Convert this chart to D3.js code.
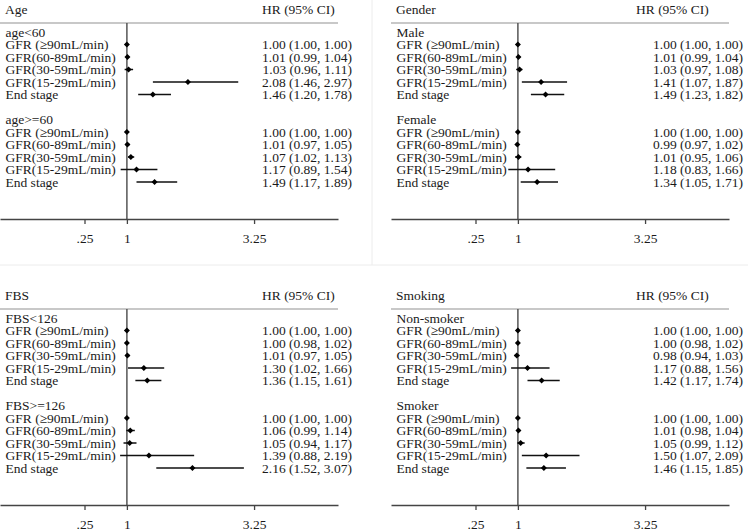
<!DOCTYPE html>
<html lang="en">
<head>
<meta charset="UTF-8">
<title>Forest plots</title>
<style>
  body { margin: 0; background: #fff; }
  text { font-family: "Liberation Serif", "Times New Roman", serif; font-size: 13.5px; fill: #1a1a1a; }
</style>
</head>
<body>
<svg id="chart" width="748" height="530"></svg>
<script src="https://d3js.org/d3.v7.min.js"></script>
<script>

// panel titles and subgroups
let panelTitles = ["Age", "Gender", "FBS", "Smoking"];
let subgroups = [
    ["age<60", "age>=60"],
    ["Male", "Female"],
    ["FBS<126", "FBS>=126"],
    ["Non-smoker", "Smoker"]
];
let rowLabels = ["GFR (\u226590mL/min)", "GFR(60-89mL/min)", "GFR(30-59mL/min)", "GFR(15-29mL/min)", "End stage"];
let tickVals = [0.25, 1, 3.25];
let tickLabels = [".25", "1", "3.25"];

// hazard ratios, lower and upper CI: [panel][subgroup][row]
let hr = [
    [[1.00, 1.01, 1.03, 2.08, 1.46], [1.00, 1.01, 1.07, 1.17, 1.49]],
    [[1.00, 1.01, 1.03, 1.41, 1.49], [1.00, 0.99, 1.01, 1.18, 1.34]],
    [[1.00, 1.00, 1.01, 1.30, 1.36], [1.00, 1.06, 1.05, 1.39, 2.16]],
    [[1.00, 1.00, 0.98, 1.17, 1.42], [1.00, 1.01, 1.05, 1.50, 1.46]]
];
let lo = [
    [[1.00, 0.99, 0.96, 1.46, 1.20], [1.00, 0.97, 1.02, 0.89, 1.17]],
    [[1.00, 0.99, 0.97, 1.07, 1.23], [1.00, 0.97, 0.95, 0.83, 1.05]],
    [[1.00, 0.98, 0.97, 1.02, 1.15], [1.00, 0.99, 0.94, 0.88, 1.52]],
    [[1.00, 0.98, 0.94, 0.88, 1.17], [1.00, 0.98, 0.99, 1.07, 1.15]]
];
let hi = [
    [[1.00, 1.04, 1.11, 2.97, 1.78], [1.00, 1.05, 1.13, 1.54, 1.89]],
    [[1.00, 1.04, 1.08, 1.87, 1.82], [1.00, 1.02, 1.06, 1.66, 1.71]],
    [[1.00, 1.02, 1.05, 1.66, 1.61], [1.00, 1.14, 1.17, 2.19, 3.07]],
    [[1.00, 1.02, 1.03, 1.56, 1.74], [1.00, 1.04, 1.12, 2.09, 1.85]]
];

let svg = d3.select("#chart");
let fmt = d3.format(".2f");

// faint borders of the original image tiles
svg.append("line").attr("x1", 372).attr("x2", 372).attr("y1", 0).attr("y2", 265)
    .attr("stroke", "#ececec").attr("stroke-width", 1);
svg.append("line").attr("x1", 0).attr("x2", 748).attr("y1", 265).attr("y2", 265)
    .attr("stroke", "#ececec").attr("stroke-width", 1);

let origins = [[0, 0], [391, 0], [0, 286], [391, 286]];
let hrHeadX = [262, 245, 262, 245];

// x scale shared by all panels (linear, as in the original)
let xScale = d3.scaleLinear().domain([-1.245, 4.735]).range([0, 338]);
// row index -> y
let yScale = d3.scaleLinear().domain([0, 12]).range([32, 182]);

panelTitles.forEach((title, p) => {
    let g = svg.append("g")
        .attr("transform", "translate(" + origins[p][0] + "," + origins[p][1] + ")");

    // build rows: subgroup title, 5 rows, blank, subgroup title, 5 rows
    let rows = [];
    subgroups[p].forEach((sg, s) => {
        let base = s * 7;
        rows.push({i: base, label: sg, head: true});
        rowLabels.forEach((lab, r) => {
            rows.push({i: base + 1 + r, label: lab, hr: hr[p][s][r], lo: lo[p][s][r], hi: hi[p][s][r]});
        });
    });

    // header
    g.append("text").attr("x", 5).attr("y", 13.5).text(title);
    g.append("text").attr("x", hrHeadX[p]).attr("y", 13.5).text("HR (95% CI)");
    g.append("line").attr("x1", 0).attr("x2", 338).attr("y1", 23).attr("y2", 23)
        .attr("stroke", "#c8c8c8").attr("stroke-width", 2);

    // reference line at 1
    g.append("line")
        .attr("x1", xScale(1)).attr("x2", xScale(1))
        .attr("y1", 23).attr("y2", 219)
        .attr("stroke", "#555").attr("stroke-width", 1.5);

    // axis
    let ax = g.append("g")
        .attr("transform", "translate(0,219)")
        .call(d3.axisBottom(xScale)
            .tickValues(tickVals)
            .tickFormat((d, i) => tickLabels[i])
            .tickSize(5)
            .tickSizeOuter(0)
            .tickPadding(9));
    ax.select(".domain").attr("stroke", "#444").attr("stroke-width", 1.3);
    ax.selectAll(".tick line").attr("stroke", "#444").attr("stroke-width", 1.3);
    ax.selectAll(".tick text")
        .style("font-family", "'Liberation Serif', 'Times New Roman', serif")
        .style("font-size", "13.5px")
        .attr("fill", "#1a1a1a");

    // row labels
    g.selectAll("text.lab")
        .data(rows)
        .enter()
        .append("text")
        .attr("class", "lab")
        .attr("x", 5.5)
        .attr("y", d => yScale(d.i) + 4.5)
        .text(d => d.label);

    let est = rows.filter(d => !d.head);

    // CI lines
    g.selectAll("line.ci")
        .data(est)
        .enter()
        .append("line")
        .attr("class", "ci")
        .attr("x1", d => xScale(d.lo))
        .attr("x2", d => xScale(d.hi))
        .attr("y1", d => yScale(d.i))
        .attr("y2", d => yScale(d.i))
        .attr("stroke", "#111")
        .attr("stroke-width", 1.5);

    // point estimates (square turned 45deg -> even diamond)
    g.selectAll("path.pt")
        .data(est)
        .enter()
        .append("path")
        .attr("class", "pt")
        .attr("transform", d => "translate(" + xScale(d.hr) + "," + yScale(d.i) + ") rotate(45)")
        .attr("d", d3.symbol(d3.symbolSquare).size(18))
        .attr("fill", "#000");

    // HR (95% CI) values
    g.selectAll("text.val")
        .data(est)
        .enter()
        .append("text")
        .attr("class", "val")
        .attr("x", 352)
        .attr("y", d => yScale(d.i) + 4.5)
        .attr("text-anchor", "end")
        .text(d => fmt(d.hr) + " (" + fmt(d.lo) + ", " + fmt(d.hi) + ")");
});

</script>
</body>
</html>
